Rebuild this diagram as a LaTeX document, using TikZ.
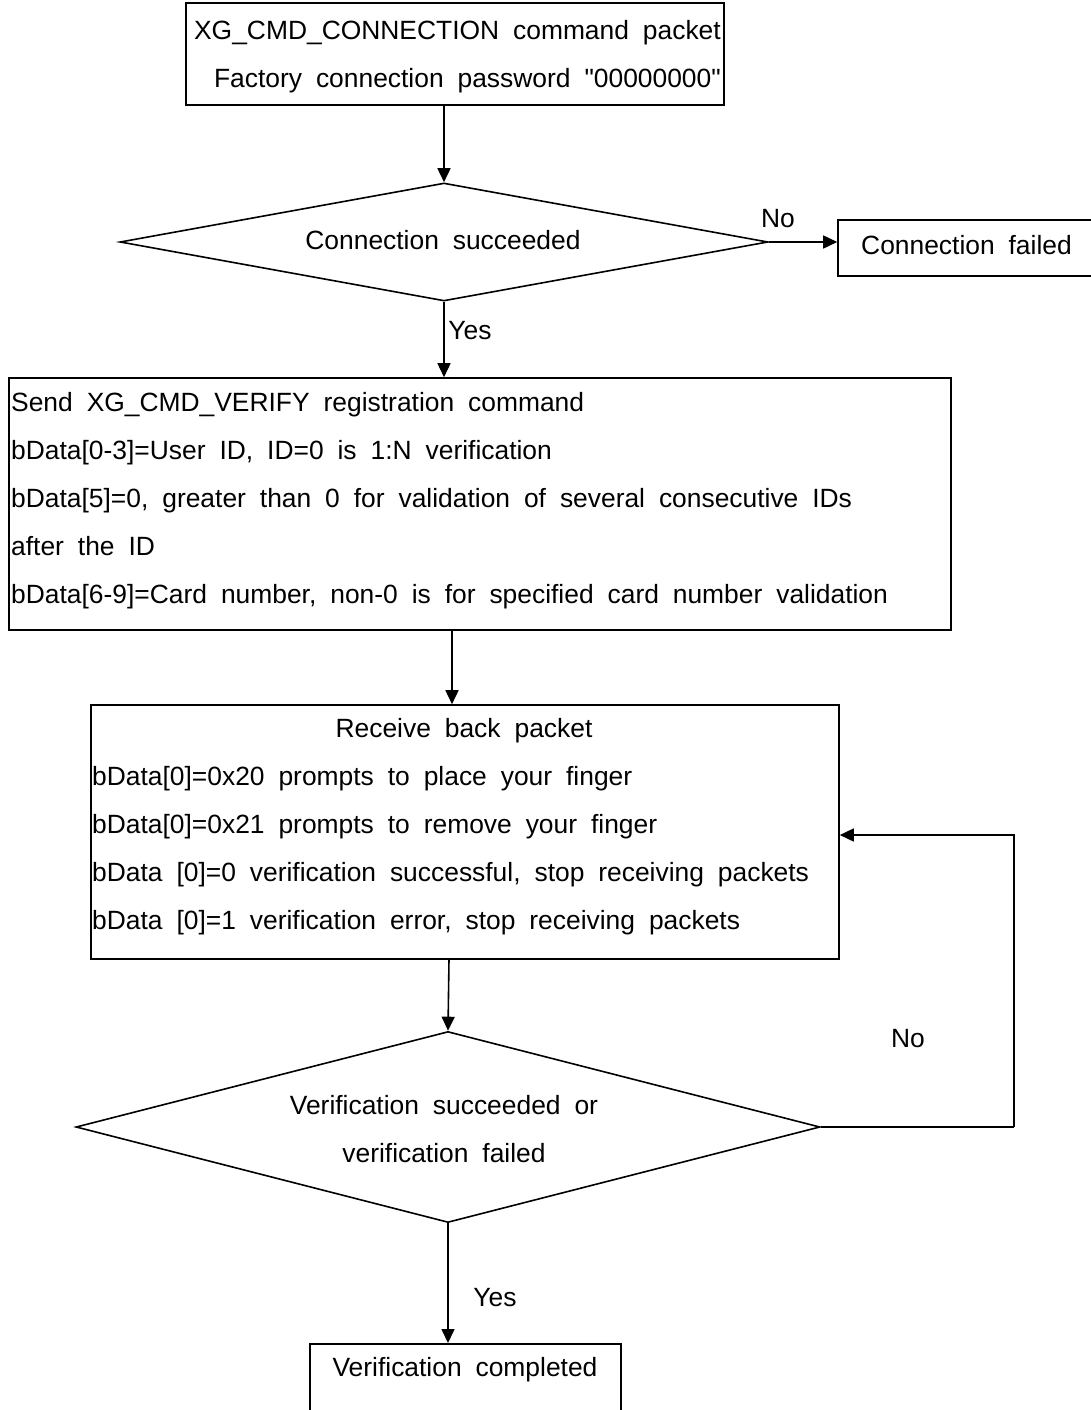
\documentclass[tikz,border=0pt]{standalone}
\usepackage{fontspec}
\setmainfont{Liberation Sans}[WordSpace=1.9, Ligatures=TeXOff]
\usetikzlibrary{arrows.meta,shapes.geometric}

\tikzset{
  flowbox/.style={draw, line width=1.6pt, inner sep=0pt},
  decision/.style={draw, diamond, line width=1.6pt, inner sep=0pt},
  txt/.style={inner sep=0pt, font=\fontsize{26.4}{48}\selectfont},
  flow/.style={line width=1.6pt, -{Triangle[length=14pt,width=13pt]}},
  plain/.style={line width=1.6pt}
}

\begin{document}
\begin{tikzpicture}[x=1pt,y=-1pt]
\useasboundingbox (0,0) rectangle (1091,1410);
\clip (0,0) rectangle (1091,1410);

% connect step
\node[flowbox, minimum width=538pt, minimum height=102pt] (conn) at (455,54) {};
\node[txt, align=right, anchor=east] (conntxt) at (721,57)
  {XG\_CMD\_CONNECTION command packet\\Factory connection password "00000000"};

% connection check
\node[decision, minimum width=648pt, minimum height=118pt] (ok1) at (444,242) {};
\node[txt] (ok1txt) at (443,240) {Connection succeeded};

\node[flowbox, minimum width=262pt, minimum height=56pt] (fail) at (969,248) {};
\node[txt, anchor=west] (failtxt) at (861,245) {Connection failed};

% verify command
\node[flowbox, minimum width=942pt, minimum height=252pt] (verify) at (480,504) {};
\node[txt, align=left, anchor=west] (verifytxt) at (11,501)
  {Send XG\_CMD\_VERIFY registration command\\
   bData[0-3]=User ID, ID=0 is 1:N verification\\
   bData[5]=0, greater than 0 for validation of several consecutive IDs\\
   after the ID\\
   bData[6-9]=Card number, non-0 is for specified card number validation};

% receive packets
\node[flowbox, minimum width=748pt, minimum height=254pt] (recv) at (465,832) {};
\node[txt] (recvhead) at (464,731) {Receive back packet};
\node[txt, align=left, anchor=west] (recvtxt) at (92,851)
  {bData[0]=0x20 prompts to place your finger\\
   bData[0]=0x21 prompts to remove your finger\\
   bData [0]=0 verification successful, stop receiving packets\\
   bData [0]=1 verification error, stop receiving packets};

% result check
\node[decision, minimum width=744pt, minimum height=191pt] (ok2) at (448,1127) {};
\node[txt, align=center] (ok2txt) at (444,1129)
  {Verification succeeded or\\verification failed};

% finish
\node[flowbox, minimum width=311pt, minimum height=110pt, anchor=north] (done) at (465.5,1343) {};
\node[txt] (donetxt) at (465,1370) {Verification completed};

% connectors
\coordinate (c2) at (452,630);
\coordinate (c3) at (449,959);
\coordinate (loopc) at (1014,1127);

\draw[flow] (ok1.north |- conn.south) -- (ok1.north);
\draw[flow] (ok1.east) -- (fail.west |- ok1.east);
\draw[flow] (ok1.south) -- (ok1.south |- verify.north);
\draw[flow] (c2) -- (c2 |- recv.north);
\draw[flow] (c3) -- (ok2.north);
\draw[plain] (ok2.east) -- (loopc);
\draw[flow] (loopc) |- ([yshift=-3pt]recv.east);
\draw[flow] (ok2.south) -- (ok2.south |- done.north);

% branch labels
\node[txt] (no1) at (778,219) {No};
\node[txt] (yes1) at (470,331) {Yes};
\node[txt] (no2) at (908,1039) {No};
\node[txt] (yes2) at (495,1298) {Yes};
\end{tikzpicture}
\end{document}
